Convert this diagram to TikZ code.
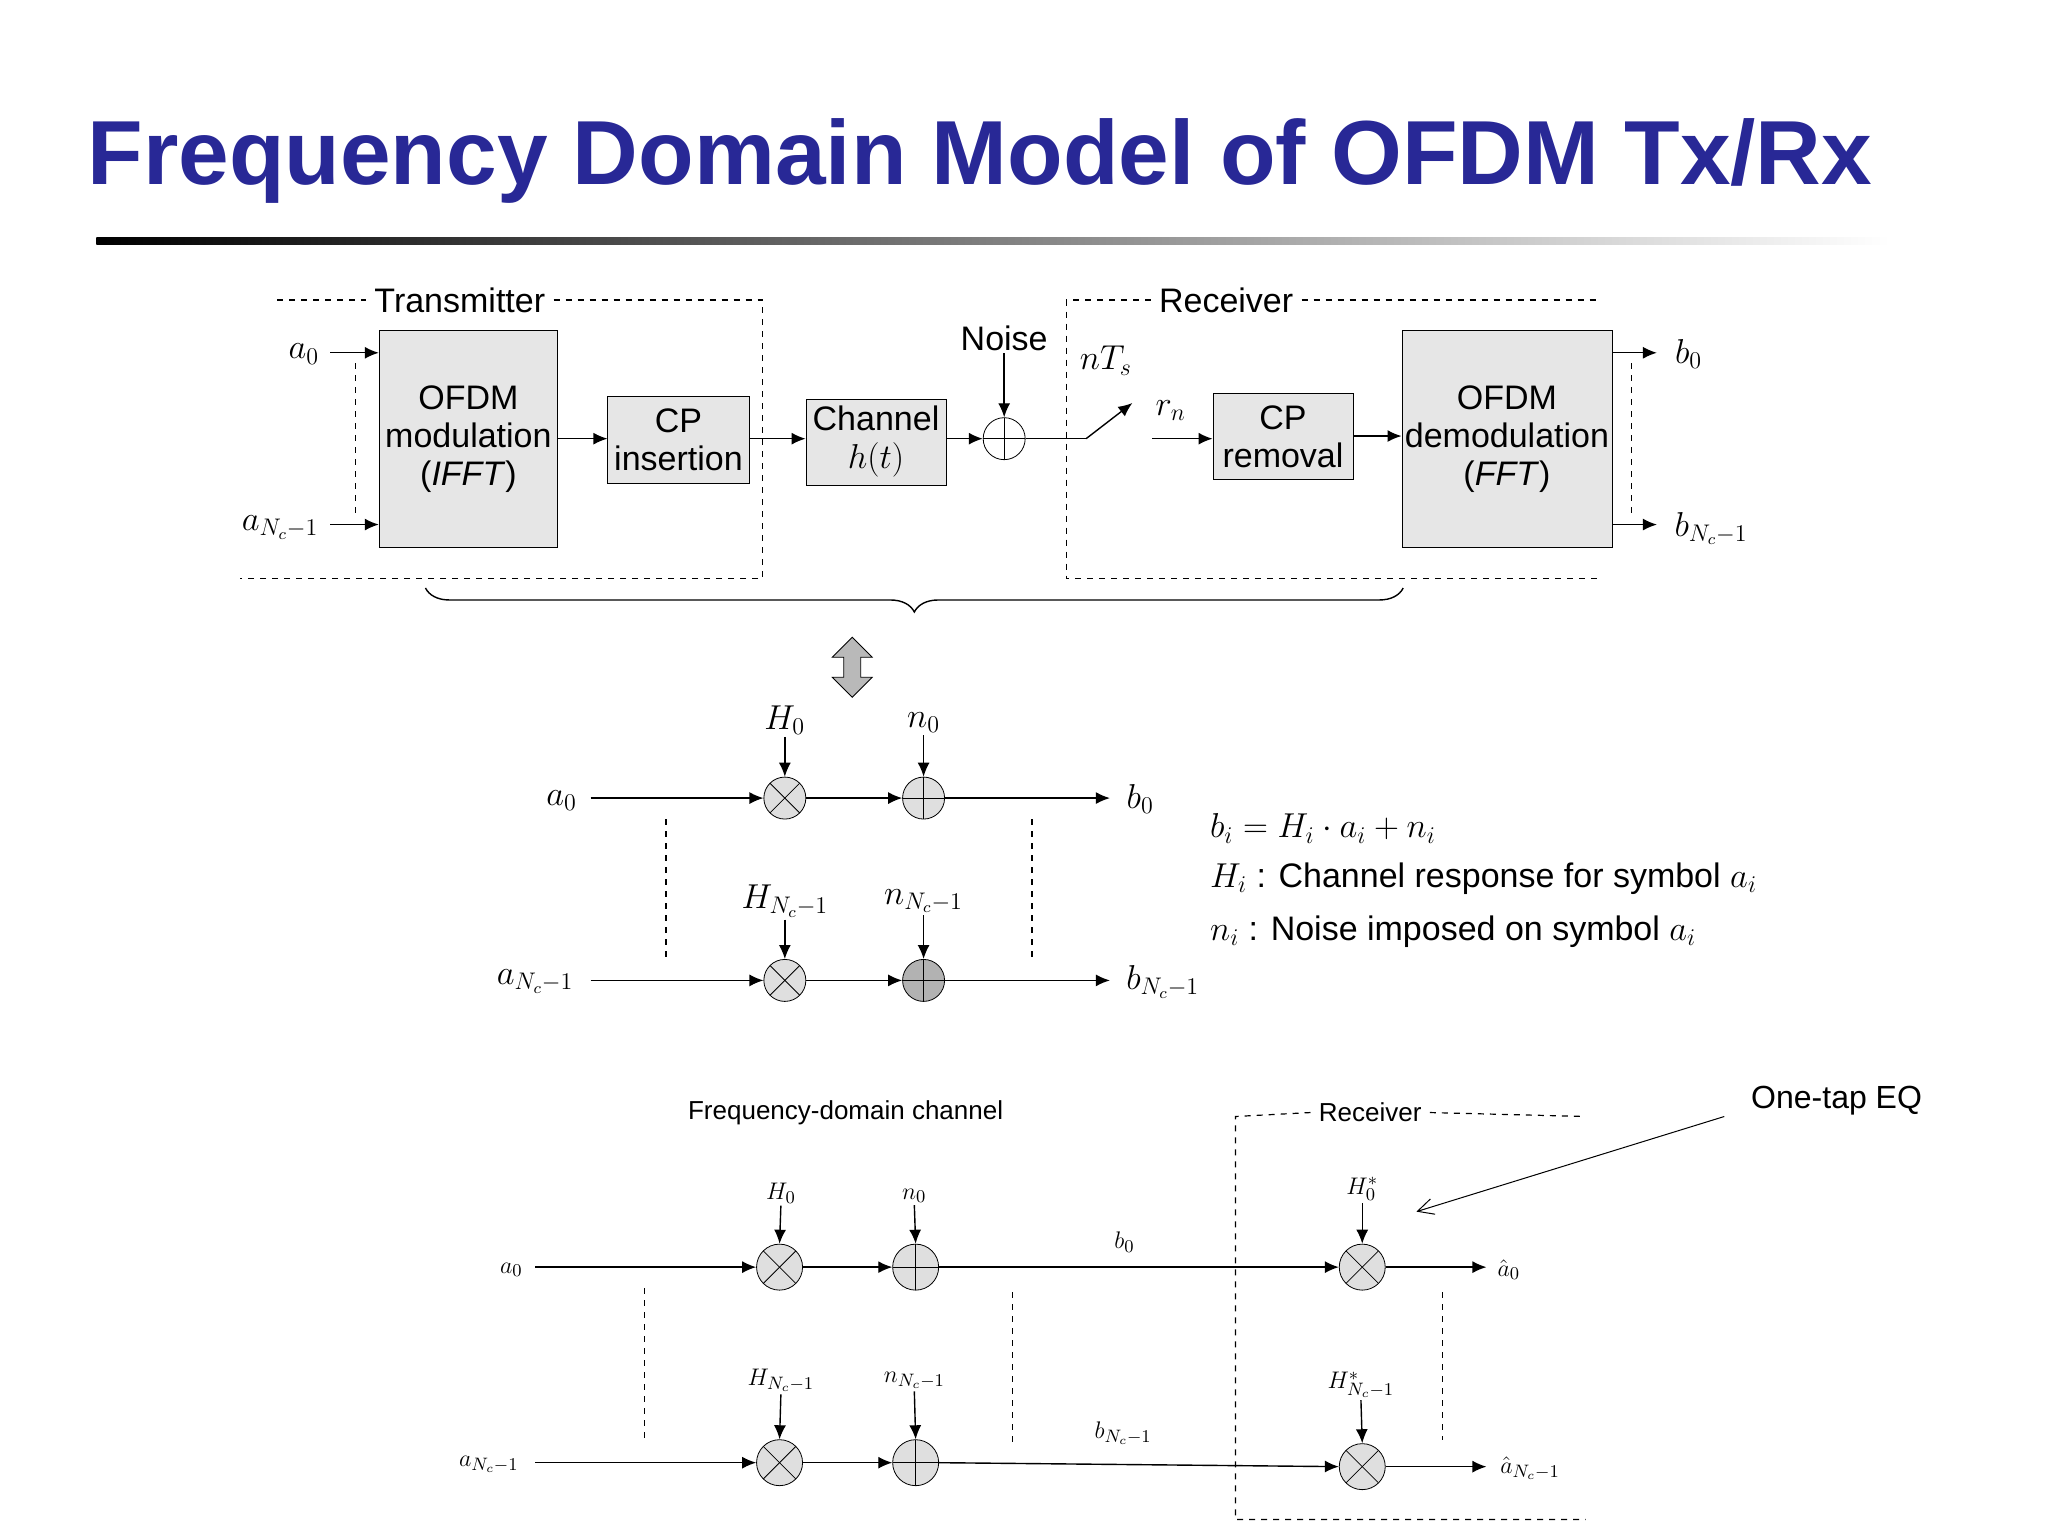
\documentclass[tikz,border=0pt]{standalone}
\usepackage{fontspec}
\setmainfont{Liberation Sans}
\usetikzlibrary{arrows.meta,decorations.pathreplacing,shapes.arrows}
\definecolor{titleblue}{RGB}{40,40,150}
\definecolor{boxgray}{RGB}{230,230,230}
\begin{document}
\begin{tikzpicture}[x=0.6607pt,y=-0.6607pt,
  blk/.style={draw,fill=boxgray,align=center,inner sep=0pt,font=\fontsize{17}{19}\selectfont},
  arr/.style={-{Latex[length=7pt,width=6pt]},line width=0.7pt},
  dsh/.style={dashed,line width=0.6pt},
  txt/.style={font=\fontsize{17}{19}\selectfont,inner sep=1pt},
  stxt/.style={font=\fontsize{13}{15}\selectfont,inner sep=1pt},
  lbl/.style={inner sep=4pt},
  mul/.style={circle,draw,fill=gray!25,minimum size=#1,inner sep=0pt,
    path picture={\draw (path picture bounding box.center) ++(45:#1/2) -- ++(225:#1);
                  \draw (path picture bounding box.center) ++(135:#1/2) -- ++(-45:#1);}},
  add/.style={circle,draw,fill=gray!25,minimum size=#1,inner sep=0pt,
    path picture={\draw (path picture bounding box.north) -- (path picture bounding box.south);
                  \draw (path picture bounding box.west) -- (path picture bounding box.east);}},
  lw/.style={line width=0.7pt}]
\useasboundingbox (0,0) rectangle (1550,1159);
\fill[white] (0,0) rectangle (1550,1159);
% title
\node[text=titleblue,font=\bfseries\fontsize{45.5}{48}\selectfont,anchor=west,inner sep=0] (title) at (66,122) {Frequency Domain Model of OFDM Tx/Rx};
\shade[left color=black,right color=white] (73,180) rectangle (1430,185);
% top dashed boxes
\node[txt,lbl] (tx) at (348,227) {Transmitter};
\draw[dsh] (210,227) -- (tx.west); \draw[dsh] (tx.east) -- (577,227) -- (577,438) -- (182,438);
\node[txt,lbl] (rx) at (928,227) {Receiver};
\draw[dsh] (rx.west) -- (807,227) -- (807,438) -- (1210,438); \draw[dsh] (rx.east) -- (1210,227);
% blocks
\node[blk,minimum width=135*0.6607pt,minimum height=164*0.6607pt] (mod) at (354.5,332) {OFDM\\modulation\\(\textit{IFFT})};
\node[blk,minimum width=107*0.6607pt,minimum height=66*0.6607pt] (cpi) at (513.5,333) {CP\\insertion};
\node[blk,minimum width=106*0.6607pt,minimum height=65*0.6607pt] (ch) at (663,334.5) {Channel\\$h(t)$};
\node[add=21pt,fill=white] (sum) at (760,332) {};
\node[txt] (noise) at (760,256) {Noise};
\node[blk,minimum width=106*0.6607pt,minimum height=65*0.6607pt] (cpr) at (971,330.5) {CP\\removal};
\node[blk,minimum width=159*0.6607pt,minimum height=164*0.6607pt] (dem) at (1140.5,332) {OFDM\\demodulation\\(\textit{FFT})};
\draw[arr] (mod.east |- 0,332) -- (cpi.west |- 0,332);
\draw[arr] (cpi.east |- 0,332) -- (ch.west |- 0,332);
\draw[arr] (ch.east |- 0,332) -- (sum.west);
\draw[arr] (noise.south) -- (sum.north);
\coordinate (sw) at (822,332);
\coordinate (swe) at (857,305);
\draw[lw] (sum.east) -- (sw);
\draw[-{Latex[length=7pt,width=6pt]},lw] (sw) -- (swe);
\node[txt] (nts) at (837,273) {$nT_s$};
\node[txt] (rn) at (886,311) {$r_n$};
\coordinate (rs) at (872,332);
\draw[arr] (rs) -- (cpr.west |- 0,332);
\draw[arr] (cpr.east |- 0,330) -- (dem.west |- 0,330);
% inputs/outputs
\node[txt] (a0) at (230,268) {$a_0$};
\node[txt] (aN) at (212,399) {$a_{N_c-1}$};
\coordinate (ia0) at (250,267); \coordinate (iaN) at (250,397);
\draw[arr] (ia0) -- (mod.west |- ia0);
\draw[arr] (iaN) -- (mod.west |- iaN);
\draw[dsh] (269,275) -- (269,392);
\node[txt] (b0) at (1278,268) {$b_0$};
\node[txt] (bN) at (1295,400) {$b_{N_c-1}$};
\coordinate (ob0) at (1254,267); \coordinate (obN) at (1254,397);
\draw[arr] (dem.east |- ob0) -- (ob0);
\draw[arr] (dem.east |- obN) -- (obN);
\draw[dsh] (1235,275) -- (1235,392);
% brace
\draw[decorate,decoration={brace,mirror,amplitude=12pt},lw] (322,445) -- (1062,445);
\node[double arrow,draw,fill=gray!55,rotate=90,minimum height=30pt,minimum width=20pt,double arrow head extend=3pt,inner sep=2pt] (da) at (645,505) {};
% middle
\node[txt] (ma0) at (425,606) {$a_0$};
\node[mul=21pt] (m0) at (594,604) {};
\node[add=21pt] (s0) at (699,604) {};
\node[txt] (mH0) at (594,545) {$H_0$};
\node[txt] (mn0) at (699,547) {$n_0$};
\node[txt] (mb0) at (863,605) {$b_0$};
\coordinate (im0) at (447,604); \coordinate (om0) at (840,604);
\draw[arr] (im0) -- (m0.west); \draw[arr] (m0) -- (s0.west);
\draw[arr] (s0.east) -- (om0);
\draw[arr] (mH0.south) -- (m0.north); \draw[arr] (mn0.south) -- (s0.north);
\node[txt] (maN) at (405,743) {$a_{N_c-1}$};
\node[mul=21pt] (m1) at (594,742) {};
\node[add=21pt,fill=gray!60] (s1) at (699,742) {};
\node[txt] (mHN) at (594,682) {$H_{N_c-1}$};
\node[txt] (mnN) at (699,682) {$n_{N_c-1}$};
\node[txt] (mbN) at (880,743) {$b_{N_c-1}$};
\coordinate (im1) at (447,742); \coordinate (om1) at (840,742);
\draw[arr] (im1) -- (m1.west); \draw[arr] (m1) -- (s1.west);
\draw[arr] (s1.east) -- (om1);
\draw[arr] (mHN.south) -- (m1.north); \draw[arr] (mnN.south) -- (s1.north);
\draw[dsh] (504,620) -- (504,728); \draw[dsh] (781,620) -- (781,728);
\node[txt,anchor=west] (e1) at (914,627) {$b_i = H_i\cdot a_i + n_i$};
\node[txt,anchor=west] (e2) at (914,665) {$H_i$ : Channel response for symbol $a_i$};
\node[txt,anchor=west] (e3) at (914,705) {$n_i$ : Noise imposed on symbol $a_i$};
% bottom
\node[stxt] (fdc) at (640,842) {Frequency-domain channel};
\node[stxt,lbl] (brx) at (1037,842) {Receiver};
\draw[dsh] (brx.west) -- (935,845) -- (935,1150) -- (1200,1150); \draw[dsh] (brx.east) -- (1200,845);
\node[stxt] (ba0) at (387,961) {$a_0$};
\node[mul=23pt] (bm0) at (590,959) {};
\node[add=23pt] (bs0) at (693,959) {};
\node[mul=23pt] (be0) at (1031,959) {};
\node[stxt] (bH0) at (591,903) {$H_0$};
\node[stxt] (bn0) at (692,905) {$n_0$};
\node[stxt] (bHs0) at (1031,900) {$H_0^*$};
\node[stxt] (bb0) at (851,940) {$b_0$};
\node[stxt] (bh0) at (1142,961) {$\hat a_0$};
\coordinate (ib0) at (405,959); \coordinate (ob0b) at (1125,959);
\draw[arr] (ib0) -- (bm0.west); \draw[arr] (bm0) -- (bs0.west);
\draw[arr] (bs0.east) -- (be0.west); \draw[arr] (be0.east) -- (ob0b);
\draw[arr] (bH0.south) -- (bm0.north); \draw[arr] (bn0.south) -- (bs0.north); \draw[arr] (bHs0.south) -- (be0.north);
\node[stxt] (baN) at (370,1108) {$a_{N_c-1}$};
\node[mul=23pt] (bm1) at (590,1107) {};
\node[add=23pt] (bs1) at (693,1107) {};
\node[mul=23pt] (be1) at (1031,1110) {};
\node[stxt] (bHN) at (591,1045) {$H_{N_c-1}$};
\node[stxt] (bnN) at (692,1045) {$n_{N_c-1}$};
\node[stxt] (bHsN) at (1030,1048) {$H_{N_c-1}^*$};
\node[stxt] (bbN) at (850,1085) {$b_{N_c-1}$};
\node[stxt] (bhN) at (1158,1111) {$\hat a_{N_c-1}$};
\coordinate (ib1) at (405,1107); \coordinate (ob1b) at (1125,1110);
\draw[arr] (ib1) -- (bm1.west); \draw[arr] (bm1) -- (bs1.west);
\draw[arr] (bs1.east) -- (be1.west); \draw[arr] (be1.east) -- (ob1b);
\draw[arr] (bHN.south) -- (bm1.north); \draw[arr] (bnN.south) -- (bs1.north); \draw[arr] (bHsN.south) -- (be1.north);
\draw[dsh] (488,975) -- (488,1088); \draw[dsh] (766,978) -- (766,1092); \draw[dsh] (1092,978) -- (1092,1090);
\node[font=\fontsize{16}{18}\selectfont] (eq) at (1390,833) {One-tap EQ};
\coordinate (eqs) at (1305,845);
\coordinate (eqt) at (1072,917);
\draw[-{Straight Barb[length=8pt,width=8pt]},line width=0.5pt] (eqs) -- (eqt);
\end{tikzpicture}
\end{document}
